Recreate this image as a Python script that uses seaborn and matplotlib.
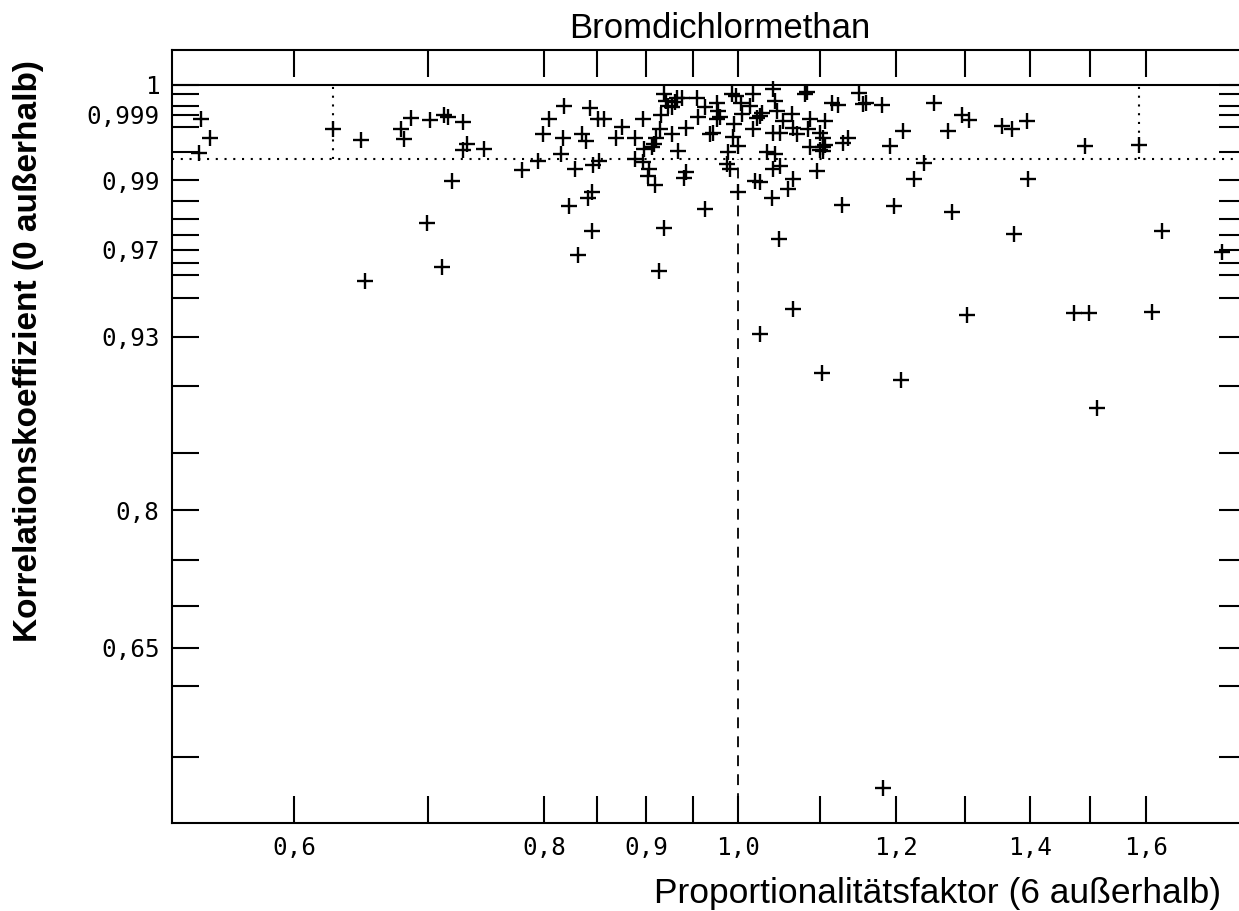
import numpy as np
import matplotlib
matplotlib.use("Agg")
import matplotlib.pyplot as plt
from matplotlib.ticker import NullLocator
import seaborn as sns

# ---------------- data ----------------
faktor = [
    0.5387, 0.5446, 0.5373, 0.6273, 0.6481, 0.6781, 0.6805, 0.6865, 0.7017, 0.7126,
    0.7161, 0.7284, 0.7320, 0.7284, 0.7467, 0.7194, 0.6992, 0.7112, 0.6506, 0.8185,
    0.8434, 0.8045, 0.8515, 0.8571, 0.8962, 0.9188, 0.9206, 0.9230, 0.9320, 0.9374,
    0.9537, 0.9150, 0.9267, 0.9555, 0.9629, 0.9760, 0.9778, 0.9797, 0.9760, 0.9930,
    0.9976, 1.0037, 1.0045, 0.9417, 0.9267, 0.9143, 0.9100, 0.9722, 0.9960, 0.9948,
    1.0006, 0.9891, 0.9880, 0.9914, 1.0006, 0.7993, 0.8178, 0.8354, 0.8395, 0.8751,
    0.8688, 0.8883, 0.8976, 0.9083, 0.9337, 0.8883, 0.8968, 0.9027, 0.7941, 0.8154,
    0.7796, 0.8290, 0.8466, 0.8522, 0.9090, 0.9417, 0.9402, 0.8451, 0.8412, 0.8236,
    0.9629, 0.9185, 0.8451, 0.8315, 0.9132, 1.0180, 1.0418, 1.0438, 1.0805, 1.1503,
    1.1588, 1.1812, 1.2541, 1.2943, 1.3047, 1.2745, 1.2092, 1.1917, 1.0142, 1.0259,
    1.0458, 1.0641, 1.0538, 1.0868, 1.1057, 1.1143, 1.1228, 1.0180, 1.0418, 1.0498,
    1.0660, 1.0703, 1.0846, 1.0993, 1.1035, 1.1358, 1.1293, 1.0868, 1.1028, 1.1035,
    1.0339, 1.0438, 1.0498, 1.0418, 1.0952, 1.2397, 1.2256, 1.0200, 1.0259, 1.0653,
    1.0599, 1.0398, 1.1272, 1.1976, 1.2799, 1.0482, 1.3554, 1.3711, 1.3959, 1.4918,
    1.5877, 1.3965, 1.3752, 1.6297, 1.7465, 1.4736, 1.4988, 1.6122, 1.0657, 1.0254,
    1.1024, 1.2076, 1.3028, 1.5127, 1.1821, 1.0283, 1.0224, 1.0993, 1.1057, 1.0830,
    1.1552, 0.9685, 0.9302, 0.9059, 0.9017,
]
korrelation = [
    0.99874, 0.99693, 0.99480, 0.99789, 0.99661, 0.99789, 0.99673, 0.99876, 0.99863, 0.99899,
    0.99888, 0.99847, 0.99620, 0.99529, 0.99547, 0.98985, 0.97890, 0.96343, 0.95732, 0.99949,
    0.99939, 0.99869, 0.99869, 0.99869, 0.99869, 0.99990, 0.99971, 0.99950, 0.99982, 0.99982,
    0.99980, 0.99899, 0.99945, 0.99885, 0.99945, 0.99965, 0.99924, 0.99885, 0.99869, 0.99990,
    0.99986, 0.99965, 0.99904, 0.99792, 0.99738, 0.99782, 0.99693, 0.99748, 0.99828, 0.99700,
    0.99588, 0.99495, 0.99306, 0.99217, 0.98726, 0.99730, 0.99693, 0.99730, 0.99658, 0.99804,
    0.99685, 0.99685, 0.99543, 0.99611, 0.99519, 0.99391, 0.99336, 0.99217, 0.99363, 0.99470,
    0.99198, 0.99217, 0.99289, 0.99363, 0.98893, 0.99154, 0.99041, 0.98726, 0.98581, 0.98391,
    0.98302, 0.97736, 0.97628, 0.96792, 0.96165, 0.99990, 0.99998, 0.99971, 0.99990, 0.99993,
    0.99965, 0.99955, 0.99965, 0.99899, 0.99863, 0.99765, 0.99765, 0.99588, 0.99950, 0.99892,
    0.99924, 0.99908, 0.99855, 0.99869, 0.99855, 0.99965, 0.99955, 0.99782, 0.99748, 0.99748,
    0.99798, 0.99730, 0.99782, 0.99748, 0.99693, 0.99693, 0.99633, 0.99567, 0.99567, 0.99519,
    0.99495, 0.99470, 0.99277, 0.99217, 0.99174, 0.99319, 0.99021, 0.98985, 0.98951, 0.99021,
    0.98803, 0.98588, 0.98417, 0.98375, 0.98228, 0.97363, 0.99813, 0.99789, 0.99855, 0.99588,
    0.99602, 0.99021, 0.97530, 0.97628, 0.96918, 0.94274, 0.94274, 0.94324, 0.94448, 0.93143,
    0.90823, 0.90388, 0.94159, 0.88474, 0.45390, 0.99910, 0.99876, 0.99529, 0.99598, 0.99994,
    0.99958, 0.99730, 0.99966, 0.99571, 0.99082,
]

x_ticks = [0.6, 0.7, 0.8, 0.85, 0.9, 0.95, 1.0, 1.1, 1.2, 1.3, 1.4, 1.5, 1.6]
x_ticklabels = ["0,6", "", "0,8", "", "0,9", "", "1,0", "", "1,2", "", "1,4", "", "1,6"]
y_ticks = [0.5, 0.6, 0.65, 0.7, 0.75, 0.8, 0.85, 0.9, 0.93, 0.95, 0.96, 0.965, 0.97,
           0.975, 0.98, 0.985, 0.99, 0.995, 0.998, 0.999, 0.9995, 0.9999, 1.0]
y_ticklabels = ["", "", "0,65", "", "", "0,8", "", "", "0,93", "", "", "", "0,97",
                "", "", "", "0,99", "", "", "0,999", "", "", "1"]

r_grenze = 0.9939          # dotted horizontal limit
f_grenzen = [0.627, 1.588]  # dotted vertical limits

title = "Bromdichlormethan"
xlabel = "Proportionalitätsfaktor (6 außerhalb)"
ylabel = "Korrelationskoeffizient (0 außerhalb)"

# ---------------- style ----------------
sns.set_style("white")
plt.rcParams["font.family"] = ["Liberation Sans", "DejaVu Sans"]
plt.rcParams["text.color"] = "black"

W, H = 1239, 911
fig = plt.figure(figsize=(W / 100, H / 100), dpi=100)
ax = fig.add_axes([172 / W, 88 / H, (1246 - 172) / W, (823 - 50) / H])


def fwd(r):
    u = 1.0 - np.asarray(r, dtype=float)
    return -np.sign(u) * np.sqrt(np.abs(u))


def inv(t):
    t = np.asarray(t, dtype=float)
    return 1.0 + np.sign(t) * t ** 2


ax.set_xscale("log")
ax.set_yscale("function", functions=(fwd, inv))

df_x = np.array(faktor)
df_y = np.array(korrelation)
sns.scatterplot(x=df_x, y=df_y, ax=ax, marker="+", s=125, color="black",
                linewidth=1.7, legend=False, zorder=3)

y_bottom = float(inv(-0.776))
y_top = float(inv(0.03669))
ax.set_xlim(0.5211, 1.796)
ax.set_ylim(y_bottom, y_top)

lw = 1.5
ax.axhline(1.0, color="black", lw=lw, zorder=2)
ax.axhline(r_grenze, color="black", lw=1.5, ls=(0, (1, 3.2)), zorder=2)
ax.vlines(f_grenzen, r_grenze, 1.0, color="black", lw=1.5, ls=(0, (1, 3.2)), zorder=2)
ax.vlines([1.0], y_bottom, r_grenze, color="black", lw=1.3, ls=(0, (6, 4.5)), zorder=2)

ax.xaxis.set_minor_locator(NullLocator())
ax.yaxis.set_minor_locator(NullLocator())
ax.set_xticks(x_ticks, labels=x_ticklabels, fontfamily="DejaVu Sans Mono", fontsize=17.5)
ax.set_yticks(y_ticks, labels=y_ticklabels, fontfamily="DejaVu Sans Mono", fontsize=17.5)
ax.tick_params(axis="both", which="major", direction="in", length=19.5, width=lw,
               top=True, right=True, bottom=True, left=True, pad=9, colors="black")

for s in ax.spines.values():
    s.set_linewidth(lw)
    s.set_color("black")
    s.set_visible(True)

ax.set_xlabel("")
ax.set_ylabel("")

fig.text(720 / W, 1 - 28 / H, title, ha="center", va="center", fontsize=25, color="black")
fig.text(1221 / W, 1 - 893 / H, xlabel, ha="right", va="center", fontsize=25.5, color="black")
fig.text(29 / W, 1 - 351 / H, ylabel, ha="center", va="center", rotation=90,
         fontsize=24, fontweight="bold", color="black")

fig.savefig("out.png", dpi=100, facecolor="white")
